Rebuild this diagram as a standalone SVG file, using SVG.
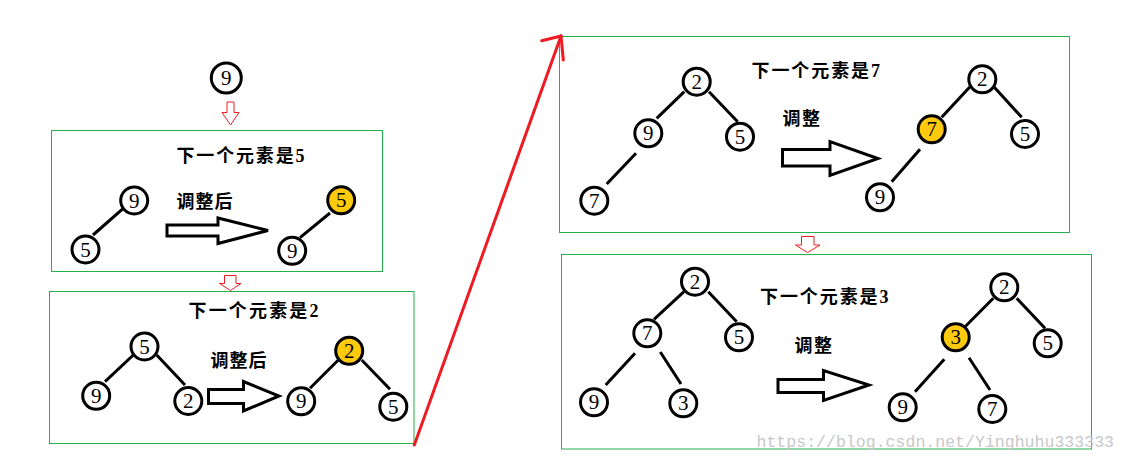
<svg xmlns="http://www.w3.org/2000/svg" width="1127" height="463" viewBox="0 0 1127 463">
<style>
.bg{fill:#ffffff}
.box{fill:none;stroke:#22b14c;stroke-width:1}
.nd{fill:#ffffff;stroke:#000000;stroke-width:3}
.hl{fill:#ffc90e;stroke:#000000;stroke-width:3}
.num{font-family:"Liberation Serif","Noto Sans CJK SC",serif;font-size:21px;fill:#000000;text-anchor:middle}
.edge{stroke:#000000;stroke-width:3;stroke-linecap:butt;fill:none}
.big{fill:#ffffff;stroke:#000000;stroke-width:3;stroke-linejoin:miter}
.down{fill:#ffffff;stroke:#ed1c24;stroke-width:1}
.red{stroke:#ed1c24;stroke-width:3;fill:none;stroke-linecap:round}
.title{font-family:"Liberation Serif","Noto Sans CJK SC",serif;font-size:18px;font-weight:bold;fill:#000000}
.adj{font-family:"Liberation Serif","Noto Sans CJK SC",serif;font-size:18px;font-weight:bold;fill:#000000}
.wm{font-family:"Liberation Mono",monospace;font-size:17px;fill:#c8c8c8}
</style>
<rect class="bg" x="0" y="0" width="1127" height="463"/>

<!-- frames -->
<g id="frames">
<rect id="box1" class="box" x="51.5" y="130.5" width="331" height="141"/>
<rect id="box2" class="box" x="49.5" y="291.5" width="364.5" height="152"/>
<rect id="box3" class="box" x="559.5" y="36.5" width="510" height="196"/>
<rect id="box4" class="box" x="561.5" y="254.5" width="530" height="194.5"/>
</g>

<!-- labels -->
<g id="labels">
<text class="title" x="176.5" y="161.5" textLength="128" lengthAdjust="spacing">下一个元素是5</text>
<text class="adj" x="176.5" y="207.5" textLength="56" lengthAdjust="spacing">调整后</text>
<text class="title" x="188.5" y="316.5" textLength="130" lengthAdjust="spacing">下一个元素是2</text>
<text class="adj" x="210.5" y="366.5" textLength="56" lengthAdjust="spacing">调整后</text>
<text class="title" x="751.5" y="77" textLength="128.5" lengthAdjust="spacing">下一个元素是7</text>
<text class="adj" x="782.5" y="125" textLength="37.5" lengthAdjust="spacing">调整</text>
<text class="title" x="760" y="303" textLength="128.5" lengthAdjust="spacing">下一个元素是3</text>
<text class="adj" x="794.5" y="351.5" textLength="37.5" lengthAdjust="spacing">调整</text>
</g>

<!-- connectors -->
<g id="connectors">
<line class="edge" x1="123.3" y1="208.3" x2="93" y2="235"/>
<line class="edge" x1="330" y1="213" x2="300" y2="237.7"/>
<line class="edge" x1="133.3" y1="355" x2="105" y2="381.7"/>
<line class="edge" x1="156.7" y1="355" x2="185" y2="385"/>
<line class="edge" x1="338.3" y1="360" x2="310" y2="388.3"/>
<line class="edge" x1="361.7" y1="360" x2="390" y2="389.3"/>
<line class="edge" x1="684.3" y1="91.7" x2="656.7" y2="118.3"/>
<line class="edge" x1="709" y1="91.7" x2="737.7" y2="121.7"/>
<line class="edge" x1="636" y1="153.3" x2="606.7" y2="184"/>
<line class="edge" x1="970" y1="86.7" x2="941.7" y2="117.3"/>
<line class="edge" x1="994.3" y1="87.3" x2="1021.7" y2="117.3"/>
<line class="edge" x1="920" y1="149.3" x2="891.7" y2="181.7"/>
<line class="edge" x1="684" y1="291.7" x2="654" y2="319.3"/>
<line class="edge" x1="708.3" y1="291.7" x2="736.7" y2="321.7"/>
<line class="edge" x1="635" y1="353.3" x2="605.7" y2="385"/>
<line class="edge" x1="660.3" y1="352" x2="681" y2="384"/>
<line class="edge" x1="993.3" y1="298.3" x2="965" y2="326.7"/>
<line class="edge" x1="1016.7" y1="298.3" x2="1045" y2="328.3"/>
<line class="edge" x1="944.3" y1="359.3" x2="915" y2="391.7"/>
<line class="edge" x1="969" y1="357.7" x2="990" y2="390"/>
<!-- big hollow arrows -->
<polygon class="big" points="167,225 218,225 218,218 268,230.5 218,243.5 218,236 167,236"/>
<polygon class="big" points="208.5,389.5 243.5,389.5 243.5,381.5 279,396 243.5,411 243.5,403.5 208.5,403.5"/>
<polygon class="big" points="782.5,149.5 830,149.5 830,141.5 878,158.5 830,175.5 830,166 782.5,166"/>
<polygon class="big" points="778,379.5 823.5,379.5 823.5,370.5 869,385 823.5,400.5 823.5,392.5 778,392.5"/>
<!-- small red down arrows -->
<polygon class="down" points="227,102 234,102 234,112.5 239,112.5 230.5,125 222,112.5 227,112.5"/>
<polygon class="down" points="224.5,275.5 236,275.5 236,283.5 241,283.5 230.5,290.5 219.5,283.5 224.5,283.5"/>
<polygon class="down" points="801.5,236.5 814,236.5 814,245 820,245 807.5,252.5 795.5,245 801.5,245"/>
<!-- red jump arrow -->
<line class="red" x1="414.3" y1="445" x2="561" y2="36"/>
<line class="red" x1="561" y1="36" x2="541.7" y2="40.7"/>
<line class="red" x1="561" y1="36" x2="563.3" y2="60"/>
</g>

<!-- nodes -->
<g id="n0"><circle class="nd" cx="226.3" cy="78" r="15"/><text class="num" x="226.3" y="85">9</text></g>

<g id="b1l9"><circle class="nd" cx="134.2" cy="200.5" r="13.5"/><text class="num" x="134.2" y="207.5">9</text></g>
<g id="b1l5"><circle class="nd" cx="85.5" cy="249.5" r="13.5"/><text class="num" x="85.5" y="256.5">5</text></g>
<g id="b1r5"><circle class="hl" cx="341.2" cy="200.3" r="13.5"/><text class="num" x="341.2" y="207.3">5</text></g>
<g id="b1r9"><circle class="nd" cx="292.2" cy="250.8" r="13.5"/><text class="num" x="292.2" y="257.8">9</text></g>

<g id="b2l5"><circle class="nd" cx="144.5" cy="346.5" r="13.5"/><text class="num" x="144.5" y="353.5">5</text></g>
<g id="b2l9"><circle class="nd" cx="96.2" cy="395.8" r="13.5"/><text class="num" x="96.2" y="402.8">9</text></g>
<g id="b2l2"><circle class="nd" cx="188.3" cy="401" r="13.5"/><text class="num" x="188.3" y="408">2</text></g>
<g id="b2r2"><circle class="hl" cx="349.2" cy="350.8" r="13.5"/><text class="num" x="349.2" y="357.8">2</text></g>
<g id="b2r9"><circle class="nd" cx="301.2" cy="401.3" r="13.5"/><text class="num" x="301.2" y="408.3">9</text></g>
<g id="b2r5"><circle class="nd" cx="393.3" cy="406.7" r="13.5"/><text class="num" x="393.3" y="413.7">5</text></g>

<g id="b3l2"><circle class="nd" cx="696.7" cy="81.7" r="13.5"/><text class="num" x="696.7" y="88.7">2</text></g>
<g id="b3l9"><circle class="nd" cx="648.3" cy="133.3" r="13.5"/><text class="num" x="648.3" y="140.3">9</text></g>
<g id="b3l5"><circle class="nd" cx="740" cy="136.7" r="13.5"/><text class="num" x="740" y="143.7">5</text></g>
<g id="b3l7"><circle class="nd" cx="594.3" cy="200.7" r="13.5"/><text class="num" x="594.3" y="207.7">7</text></g>
<g id="b3r2"><circle class="nd" cx="982.3" cy="79.3" r="13.5"/><text class="num" x="982.3" y="86.3">2</text></g>
<g id="b3r7"><circle class="hl" cx="931.7" cy="129.3" r="13.5"/><text class="num" x="931.7" y="136.3">7</text></g>
<g id="b3r5"><circle class="nd" cx="1025" cy="134" r="13.5"/><text class="num" x="1025" y="141">5</text></g>
<g id="b3r9"><circle class="nd" cx="880" cy="197.3" r="13.5"/><text class="num" x="880" y="204.3">9</text></g>

<g id="b4l2"><circle class="nd" cx="695" cy="281.7" r="13.5"/><text class="num" x="695" y="288.7">2</text></g>
<g id="b4l7"><circle class="nd" cx="647.3" cy="333.3" r="13.5"/><text class="num" x="647.3" y="340.3">7</text></g>
<g id="b4l5"><circle class="nd" cx="739" cy="337.3" r="13.5"/><text class="num" x="739" y="344.3">5</text></g>
<g id="b4l9"><circle class="nd" cx="594" cy="402.3" r="13.5"/><text class="num" x="594" y="409.3">9</text></g>
<g id="b4l3"><circle class="nd" cx="683.3" cy="403.3" r="13.5"/><text class="num" x="683.3" y="410.3">3</text></g>
<g id="b4r2"><circle class="nd" cx="1004.3" cy="287.3" r="13.5"/><text class="num" x="1004.3" y="294.3">2</text></g>
<g id="b4r3"><circle class="hl" cx="955.7" cy="337.3" r="13.5"/><text class="num" x="955.7" y="344.3">3</text></g>
<g id="b4r5"><circle class="nd" cx="1047.7" cy="343.3" r="13.5"/><text class="num" x="1047.7" y="350.3">5</text></g>
<g id="b4r9"><circle class="nd" cx="902.7" cy="407.3" r="13.5"/><text class="num" x="902.7" y="414.3">9</text></g>
<g id="b4r7"><circle class="nd" cx="992.3" cy="409" r="13.5"/><text class="num" x="992.3" y="416">7</text></g>

<text class="wm" x="756.5" y="446.5" textLength="357.5" lengthAdjust="spacingAndGlyphs">https://blog.csdn.net/Yinghuhu333333</text>
</svg>
